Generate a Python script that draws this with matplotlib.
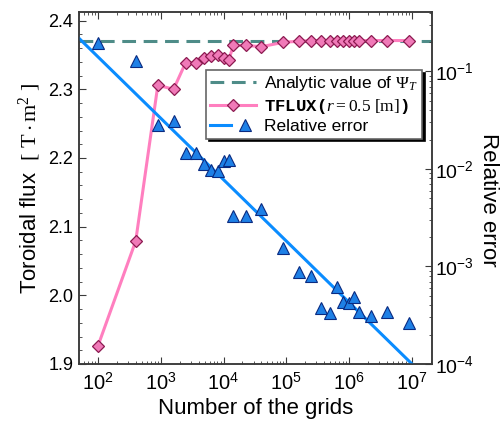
import math
import matplotlib
matplotlib.use('Agg')
import matplotlib.pyplot as plt
from matplotlib.ticker import MultipleLocator, LogLocator, FuncFormatter, NullFormatter
from matplotlib.legend_handler import HandlerTuple

plt.rcParams['font.family'] = ['Liberation Sans', 'DejaVu Sans']
plt.rcParams['mathtext.fontset'] = 'custom'
plt.rcParams['mathtext.rm'] = 'Liberation Serif'
plt.rcParams['mathtext.it'] = 'Liberation Serif:italic'
plt.rcParams['mathtext.bf'] = 'Liberation Serif:bold'
plt.rcParams['mathtext.sf'] = 'Liberation Sans'
plt.rcParams['mathtext.tt'] = 'Liberation Mono:bold'

# number of grid points (n x n)
n_grids = [100, 400, 900, 1600, 2500, 3600, 4900, 6400, 8100, 10000, 12100, 14400,
           22500, 40000, 90000, 160000, 250000, 360000, 490000, 640000, 810000,
           1000000, 1210000, 1440000, 2250000, 4000000, 9000000]

# toroidal flux from TFLUX at r = 0.5 m
tflux = [1.926, 2.079, 2.306, 2.300, 2.339, 2.338, 2.346, 2.349, 2.350, 2.346, 2.343,
         2.364, 2.364, 2.362, 2.3685, 2.370, 2.371, 2.371, 2.371, 2.371, 2.371,
         2.371, 2.371, 2.371, 2.371, 2.371, 2.371]

# relative error against analytic value
rel_err = [0.195, 0.128, 0.0281, 0.0313, 0.0147, 0.0147, 0.0112, 0.0098, 0.0095,
           0.0122, 0.0123, 0.0033, 0.0033, 0.00386, 0.00155, 0.000885, 0.000805,
           0.000373, 0.000336, 0.000612, 0.000436, 0.00042, 0.00049, 0.000344,
           0.000313, 0.000344, 0.000261]

psi_analytic = 2.371

# fitted line of relative error
fit_n = [50, 1e7]
fit_err = [0.219, 1e-4]


def pow10(v, p):
    return r'$\mathsf{10^{%d}}$' % round(math.log10(v))


fig = plt.figure(figsize=(5.04, 4.21), dpi=100)
ax = fig.add_axes([0.1567, 0.1354, 0.7004, 0.8368])
ax2 = ax.twinx()

spine_c = '#3a3a3a'

dash = ax.axhline(psi_analytic, color='#4e8c88', lw=2.2, ls=(0, (4.5, 2.5)), zorder=1)
tf_line, = ax.plot(n_grids, tflux, color='#ff7fbf', lw=2.2, marker='D', ms=6.5,
                   mfc='#f07ab8', mec='#8c1a50', mew=0.9, zorder=2)

fit_line, = ax2.plot(fit_n, fit_err, color='#0a8cff', lw=2.2, zorder=2)
tri, = ax2.plot(n_grids, rel_err, ls='none', marker='^', ms=9,
                mfc='#1e80e6', mec='#0a2a80', mew=0.8, zorder=3)

ax.set_xscale('log')
ax.set_xlim(50, 2.08e7)
ax.set_ylim(1.9, 2.413)
ax2.set_yscale('log')
ax2.set_ylim(1e-4, 0.41)

ax.yaxis.set_major_locator(MultipleLocator(0.1))
ax.yaxis.set_minor_locator(MultipleLocator(0.02))
ax.yaxis.set_major_formatter(FuncFormatter(lambda v, p: '%.1f' % v))

ax.xaxis.set_major_locator(LogLocator(base=10, numticks=20))
ax.xaxis.set_minor_locator(LogLocator(base=10, subs=range(2, 10), numticks=20))
ax.xaxis.set_minor_formatter(NullFormatter())
ax.xaxis.set_major_formatter(FuncFormatter(pow10))

ax2.yaxis.set_major_locator(LogLocator(base=10, numticks=20))
ax2.yaxis.set_minor_locator(LogLocator(base=10, subs=range(2, 10), numticks=20))
ax2.yaxis.set_minor_formatter(NullFormatter())
ax2.yaxis.set_major_formatter(FuncFormatter(pow10))

ax.tick_params(axis='x', which='both', direction='in', top=True, bottom=True,
               color=spine_c, labelsize=14.5, pad=6)
ax.tick_params(axis='y', which='both', direction='in', left=True, right=False,
               color=spine_c, labelsize=13, pad=4)
ax.tick_params(which='major', length=5)
ax.tick_params(which='minor', length=2.5)
ax2.tick_params(axis='y', which='both', direction='in', right=True, left=False,
                color=spine_c, labelsize=14, pad=2)
ax2.tick_params(which='major', length=5)
ax2.tick_params(which='minor', length=2.5)

for a in (ax, ax2):
    for s in a.spines.values():
        s.set_color(spine_c)
        s.set_linewidth(1.1)

ax.set_xlabel('Number of the grids', fontsize=16, labelpad=3)
ax.set_ylabel(r'Toroidal flux  $[\ \mathrm{T \cdot m^2}\ ]$', fontsize=16, labelpad=4)
ax2.set_ylabel('Relative error', fontsize=16, rotation=-90, va='center', ha='center')
ax2.yaxis.set_label_coords(1.16, 0.465)

leg = ax2.legend([dash, tf_line, (fit_line, tri)],
                 [r'Analytic value of $\Psi_T$',
                  r'$\mathtt{TFLUX(}r = 0.5\ [\mathrm{m}]\mathtt{)}$',
                  'Relative error'],
                 handler_map={tuple: HandlerTuple(ndivide=None)},
                 loc='upper left', bbox_to_anchor=(0.36, 0.835), borderaxespad=0,
                 fontsize=12.5, fancybox=False, framealpha=1, edgecolor='#666666',
                 shadow={'color': 'black', 'alpha': 1}, borderpad=0.25,
                 handlelength=2.6, handletextpad=0.5, labelspacing=0.2)
leg.get_frame().set_linewidth(1.2)

fig.savefig('out.png', dpi=100)
